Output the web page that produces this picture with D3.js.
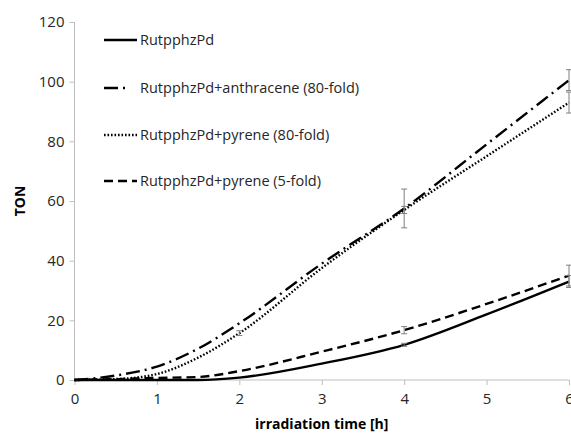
<!DOCTYPE html>
<html>
<head>
<meta charset="utf-8">
<script src="https://cdn.jsdelivr.net/npm/d3@7"></script>
<style>
  html, body { margin: 0; padding: 0; background: #fff; }
  svg { display: block; }
</style>
</head>
<body>
<div id="chart"></div>
<script>
// ---- Data ----
const times = [0, 0.5, 1, 1.5, 2, 3, 4, 5, 6]
const tonPlain = [0, 0, 0, 0, 0.8, 5.5, 11.8, 22, 33]
const tonAnthracene80 = [0, 1.5, 4.5, 10.5, 19, 39, 57.5, 79, 100.5]
const tonPyrene80 = [0, 0.3, 2, 7.5, 15.7, 37.5, 57, 75, 93]
const tonPyrene5 = [0, 0.3, 0.7, 1, 3, 9.5, 16.7, 25.5, 35]

// error bars: [time, value, +/-]
const errPlain = [[4, 11.8, 0.5], [6, 33, 2]]
const errAnthracene80 = [[4, 57.5, 6.5], [6, 100.5, 3.5]]
const errPyrene80 = [[2, 15.7, 0.8], [4, 57, 1.2], [6, 93, 3.5]]
const errPyrene5 = [[4, 16.7, 1.2], [6, 35, 3.5]]

const seriesNames = [
  'RutpphzPd',
  'RutpphzPd+anthracene (80-fold)',
  'RutpphzPd+pyrene (80-fold)',
  'RutpphzPd+pyrene (5-fold)'
]
const xTicks = [0, 1, 2, 3, 4, 5, 6]
const yTicks = [0, 20, 40, 60, 80, 100, 120]

const series = [
  { name: seriesNames[0], values: tonPlain, err: errPlain, dash: null },
  { name: seriesNames[1], values: tonAnthracene80, err: errAnthracene80, dash: '14 5 2 5' },
  { name: seriesNames[2], values: tonPyrene80, err: errPyrene80, dash: '1.6 1.9' },
  { name: seriesNames[3], values: tonPyrene5, err: errPyrene5, dash: '9 5' }
]

const width = 571
const height = 434
const margin = { top: 22, right: 2, bottom: 54, left: 74.5 }
const font = '"Open Sans",sans-serif'
const axisColor = '#bfbfbf'
const textColor = '#262626'

const x = d3.scaleLinear().domain([0, 6]).range([margin.left, width - margin.right])
const y = d3.scaleLinear().domain([0, 120]).range([height - margin.bottom, margin.top])

const svg = d3.select('#chart').append('svg')
  .attr('width', width)
  .attr('height', height)

// Y axis
svg.append('g')
  .attr('transform', `translate(${margin.left},0)`)
  .call(d3.axisLeft(y).tickValues(yTicks).tickSize(5).tickPadding(5))
  .call(g => {
    g.select('.domain').attr('stroke', axisColor).attr('d', `M0,${y(0)}V${y(120)}`)
    g.selectAll('.tick line').attr('stroke', axisColor)
    g.selectAll('.tick text')
      .attr('fill', textColor)
      .attr('font-size', '15px')
      .attr('font-family', font)
  })

// X axis
svg.append('g')
  .attr('transform', `translate(0,${y(0)})`)
  .call(d3.axisBottom(x).tickValues(xTicks).tickFormat(d3.format('d')).tickSize(5).tickPadding(8))
  .call(g => {
    g.select('.domain').attr('stroke', axisColor).attr('d', `M${x(0)},0H${x(6)}`)
    g.selectAll('.tick line').attr('stroke', axisColor)
    g.selectAll('.tick text')
      .attr('fill', textColor)
      .attr('font-size', '15px')
      .attr('font-family', font)
  })

// Axis titles
svg.append('text')
  .attr('transform', `translate(25,${y(60)}) rotate(-90)`)
  .attr('text-anchor', 'middle')
  .attr('fill', '#000')
  .attr('font-size', '14px')
  .attr('font-weight', 'bold')
  .attr('font-family', font)
  .text('TON')

svg.append('text')
  .attr('x', (x(0) + x(6)) / 2)
  .attr('y', 429)
  .attr('text-anchor', 'middle')
  .attr('fill', '#000')
  .attr('font-size', '14px')
  .attr('font-weight', 'bold')
  .attr('font-family', font)
  .text('irradiation time [h]')

// Lines
const line = d3.line()
  .x(d => x(d[0]))
  .y(d => y(d[1]))
  .curve(d3.curveMonotoneX)

svg.append('g').selectAll('path')
  .data(series)
  .join('path')
  .attr('d', s => line(times.map((t, i) => [t, s.values[i]])))
  .attr('fill', 'none')
  .attr('stroke', '#000')
  .attr('stroke-width', 2.4)
  .attr('stroke-dasharray', s => s.dash)

// Error bars
const errG = svg.append('g')
series.forEach(s => {
  s.err.forEach(([t, v, e]) => {
    const cx = x(t)
    errG.append('line')
      .attr('x1', cx).attr('x2', cx)
      .attr('y1', y(v - e)).attr('y2', y(v + e))
      .attr('stroke', '#7f7f7f').attr('stroke-width', 1)
    ;[v - e, v + e].forEach(yy => {
      errG.append('line')
        .attr('x1', cx - 3).attr('x2', cx + 3)
        .attr('y1', y(yy)).attr('y2', y(yy))
        .attr('stroke', '#7f7f7f').attr('stroke-width', 1)
    })
  })
})

// Legend
const legendRows = [40, 88, 135, 181]
const legend = svg.append('g')
series.forEach((s, i) => {
  const ly = legendRows[i]
  legend.append('line')
    .attr('x1', 104).attr('x2', i === 1 ? 127 : 137)
    .attr('y1', ly).attr('y2', ly)
    .attr('stroke', '#000')
    .attr('stroke-width', 2.4)
    .attr('stroke-dasharray', s.dash)
  legend.append('text')
    .attr('x', 140)
    .attr('y', ly)
    .attr('dy', '0.35em')
    .attr('fill', textColor)
    .attr('font-size', '14.5px')
    .attr('font-family', font)
    .text(s.name)
})
</script>
</body>
</html>
